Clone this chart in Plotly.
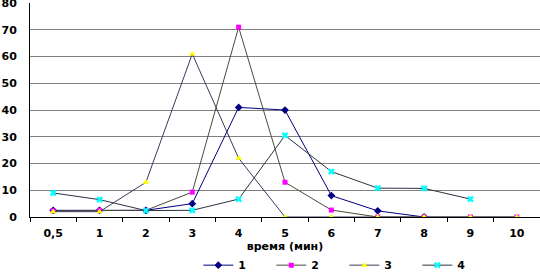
import plotly.graph_objects as go

categories = ["0,5", "1", "2", "3", "4", "5", "6", "7", "8", "9", "10"]
series_names = ["1", "2", "3", "4"]
s1 = [2.5, 2.5, 2.5, 5, 41, 40, 8, 2.3, 0, None, None]
s2 = [2.3, 2.5, 2.5, 9.3, 71, 13, 2.6, 0, 0, 0, 0]
s3 = [2, 2, 13, 61, 22, 0, 0, 0, 0, 0, 0]
s4 = [9, 6.5, 2.4, 2.5, 6.7, 30.5, 17, 10.8, 10.7, 6.7, None]
y_ticks = [0, 10, 20, 30, 40, 50, 60, 70, 80]

font_family = "DejaVu Sans, Arial, sans-serif"

styles = [
    dict(line="#000080", marker=dict(symbol="diamond", color="#000080", size=6)),
    dict(line="#4a4a3a", marker=dict(symbol="square", color="#ff00ff", size=5)),
    dict(line="#3a3a5a", marker=dict(symbol="triangle-up", color="#ffff00", size=6)),
    dict(line="#2a3440", marker=dict(symbol="x", color="#00ffff", size=6)),
]

fig = go.Figure()
for name, vals, st in zip(series_names, [s1, s2, s3, s4], styles):
    fig.add_trace(go.Scatter(
        x=categories, y=vals, name=name, mode="lines+markers",
        line=dict(color=st["line"], width=1),
        marker=st["marker"],
        connectgaps=False,
    ))

fig.update_layout(
    width=540, height=273,
    margin=dict(l=30, r=0, t=3, b=56, autoexpand=False),
    paper_bgcolor="white", plot_bgcolor="white",
    font=dict(family=font_family, size=11, color="black"),
    showlegend=True,
    legend=dict(
        orientation="h", x=0.33, xanchor="left", y=-0.225, yanchor="middle",
        font=dict(size=11, family=font_family, weight="bold"),
        entrywidth=28, entrywidthmode="pixels",
        bgcolor="rgba(0,0,0,0)",
        itemwidth=30,
    ),
    xaxis=dict(
        type="category", categoryorder="array", categoryarray=categories,
        showgrid=False, showline=True, linecolor="black", linewidth=1,
        ticks="outside", tickson="boundaries", ticklen=4, tickcolor="black",
        ticklabelstandoff=6,
        tickfont=dict(size=11, family=font_family, weight="bold"),
        title=dict(text="время (мин)", font=dict(size=11, family=font_family, weight="bold"), standoff=0),
        range=[-0.5, 10.5],
    ),
    yaxis=dict(
        range=[0, 80.05], tickvals=y_ticks, showgrid=True, gridcolor="#808080", gridwidth=1,
        showline=True, linecolor="black", linewidth=1, zeroline=False,
        ticks="", ticklabelstandoff=10, ticklabeloverflow="allow",
        tickfont=dict(size=11, family=font_family, weight="bold"),
    ),
)

fig.write_html("out.html", config={"displayModeBar": False},
               post_script="document.body.style.margin='0';")
